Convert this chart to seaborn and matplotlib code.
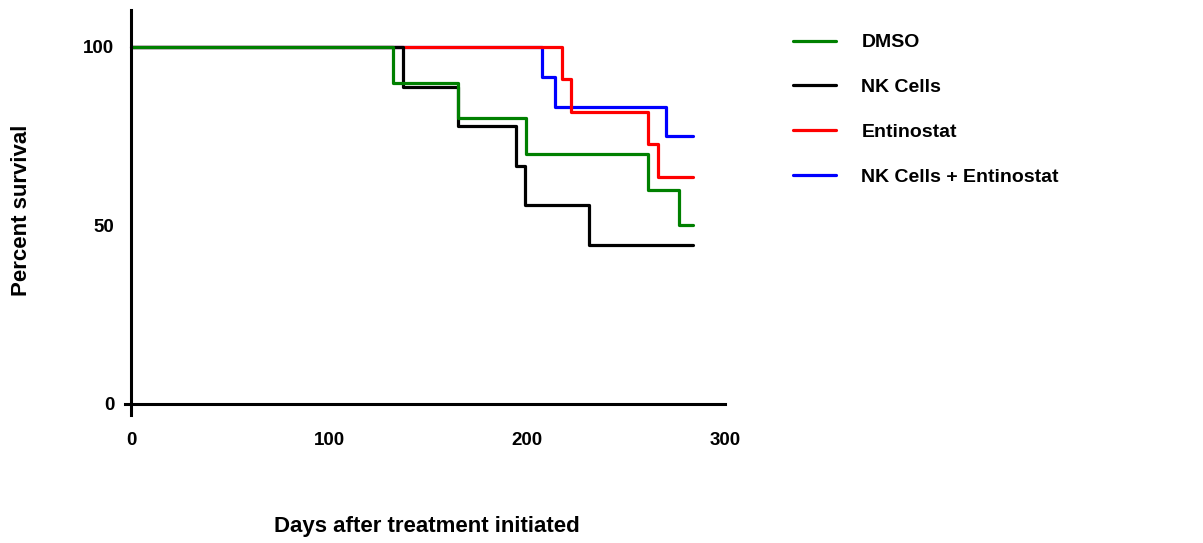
"""
Kaplan-Meier style survival curves: DMSO / NK cells / Entinostat / combination.
"""

import pandas as pd
import matplotlib
matplotlib.use("Agg")
import matplotlib.pyplot as plt
import seaborn as sns

sns.set_theme(style="white")
plt.rcParams["font.family"] = ["Liberation Sans", "DejaVu Sans"]
plt.rcParams["font.weight"] = "bold"
plt.rcParams["text.color"] = "black"
plt.rcParams["xtick.color"] = "black"
plt.rcParams["ytick.color"] = "black"

# ------------------------------------------------------------
# data (step points)
# ------------------------------------------------------------
groups = ["DMSO", "NK Cells", "Entinostat", "NK Cells + Entinostat"]
colors = ["#008000", "#000000", "#ff0000", "#0000ff"]

dmso_days = [0, 132.3, 165.2, 199.3, 261.1, 276.9, 284]
dmso_surv = [100, 90, 80, 70, 60, 50, 50]

nk_days = [0, 137.2, 165.2, 194.3, 199.0, 231.3, 284]
nk_surv = [100, 88.9, 77.8, 66.7, 55.6, 44.4, 44.4]

ent_days = [0, 217.5, 222.1, 261.1, 266.0, 284]
ent_surv = [100, 90.9, 81.8, 72.7, 63.6, 63.6]

combo_days = [0, 207.4, 214.1, 270.2, 284]
combo_surv = [100, 91.7, 83.3, 75.0, 75.0]

x_ticks = [0, 100, 200, 300]
y_ticks = [0, 50, 100]

frames = []
for name, d, s in zip(groups,
                      [dmso_days, nk_days, ent_days, combo_days],
                      [dmso_surv, nk_surv, ent_surv, combo_surv]):
    frames.append(pd.DataFrame({"Days": d, "Survival": s, "Group": name}))
df = pd.concat(frames, ignore_index=True)

# ------------------------------------------------------------
# plot
# ------------------------------------------------------------
fig = plt.figure(figsize=(12.03, 5.43), dpi=100)
ax = fig.add_axes([0.1007, 0.2363, 0.5102, 0.7462])

# draw last group first so DMSO ends up on top (as in the reference)
for name, c in reversed(list(zip(groups, colors))):
    sns.lineplot(data=df[df["Group"] == name], x="Days", y="Survival",
                 color=c, drawstyle="steps-post", estimator=None, sort=False,
                 linewidth=2.3, ax=ax)

ax.set_xlim(-5, 305)
ax.set_ylim(-3, 110.5)
ax.set_xticks(x_ticks)
ax.set_yticks(y_ticks)

for side in ["top", "right"]:
    ax.spines[side].set_visible(False)
ax.spines["bottom"].set_position(("data", 0))
ax.spines["left"].set_position(("data", 0))
ax.spines["bottom"].set_bounds(-3, 300)
ax.spines["left"].set_bounds(-3, 110.5)
for side in ["bottom", "left"]:
    ax.spines[side].set_linewidth(2.2)
    ax.spines[side].set_color("black")

ax.tick_params(axis="both", direction="out", length=8, width=2.2, color="black",
               labelsize=13.5)
ax.tick_params(axis="x", pad=12)
ax.tick_params(axis="y", pad=4)
for lbl in ax.get_xticklabels() + ax.get_yticklabels():
    lbl.set_fontweight("bold")

ax.set_xlabel("")
ax.set_ylabel("")
fig.text(0.355, 0.03, "Days after treatment initiated", ha="center", va="center",
         fontsize=16, fontweight="bold")
fig.text(0.018, 0.613, "Percent survival", ha="center", va="center", rotation=90,
         fontsize=16, fontweight="bold")

handles = [plt.Line2D([], [], color=c, linewidth=2.3) for c in colors]
fig.legend(handles, groups, loc="upper left", bbox_to_anchor=(0.645, 0.97),
           frameon=False, handlelength=2.2, handletextpad=1.3,
           labelspacing=1.4, prop={"weight": "bold", "size": 14})

plt.savefig("out.png", dpi=100)
plt.close()
